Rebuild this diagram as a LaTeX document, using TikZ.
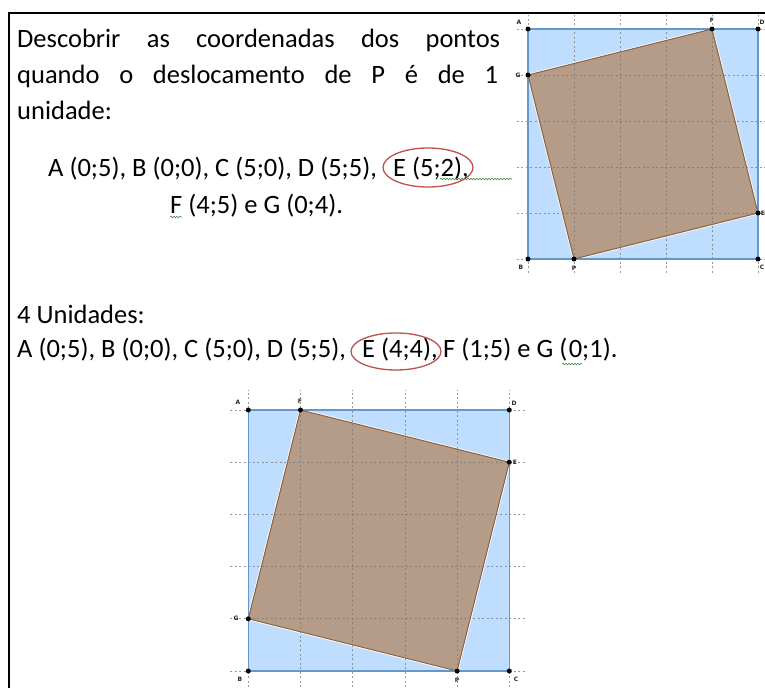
\documentclass[tikz,border=0pt]{standalone}
\usepackage{fontspec}
\setmainfont{Carlito}
\newfontfamily\lblfont{DejaVu Sans}
\usetikzlibrary{decorations.pathmorphing,shapes.geometric}
\definecolor{sqblue}{RGB}{191,222,255}
\definecolor{sqedge}{RGB}{100,152,205}
\definecolor{brownfill}{RGB}{181,156,136}
\definecolor{brownedge}{RGB}{140,100,65}
\definecolor{gridgray}{RGB}{120,120,120}
\definecolor{ringred}{RGB}{192,80,77}
\definecolor{squiggle}{RGB}{60,140,60}
\tikzset{
  txt/.style={inner sep=0pt, font=\fontsize{26.5}{30}\selectfont},
  dot/.style={circle, fill=black, inner sep=0pt, minimum size=5pt},
  lbl/.style={font=\lblfont\bfseries\fontsize{6}{6}\selectfont, inner sep=0pt, text=black!85},
  gridline/.style={gridgray, dash pattern=on 2pt off 2.5pt, line width=0.7pt, opacity=0.75},
  outerfill/.style={fill=sqblue},
  outeredge/.style={draw=sqedge, line width=1.3pt},
  halo/.style={draw=white, line width=2.6pt},
  ring/.style={draw=ringred, line width=1.3pt, ellipse, inner sep=0pt},
  wavy/.style={squiggle, line width=0.6pt, decorate, decoration={snake, amplitude=0.8pt, segment length=3pt}},
  frameline/.style={line width=2.2pt, black}
}
\begin{document}
\begin{tikzpicture}[x=1pt,y=-1pt]
\useasboundingbox (0,0) rectangle (765,688);
\clip (0,0) rectangle (765,688);
\fill[white] (0,0) rectangle (765,688);

% frame
\draw[frameline] (765,13) -- (9,13) -- (9,688);

% ---------- top figure ----------
\begin{scope}[shift={(528,259)}, x=46pt, y=46pt]
  \fill[outerfill] (0,0) rectangle (5,5);
  \draw[halo] (1,0) -- (5,1) -- (4,5) -- (0,4) -- cycle;
  \fill[brownfill] (1,0) -- (5,1) -- (4,5) -- (0,4) -- cycle;
  \foreach \u in {0,...,5} \draw[gridline] (\u,-0.3) -- (\u,5.3);
  \foreach \v in {0,...,5} \draw[gridline] (-0.25,\v) -- (5.4,\v);
  \draw[outeredge] (0,0) rectangle (5,5);
  \draw[draw=brownedge, line width=1pt] (1,0) -- (5,1) -- (4,5) -- (0,4) -- cycle;
  \node[dot] (tA) at (0,5) {};
  \node[dot] (tB) at (0,0) {};
  \node[dot] (tC) at (5,0) {};
  \node[dot] (tD) at (5,5) {};
  \node[dot] (tP) at (1,0) {};
  \node[dot] (tE) at (5,1) {};
  \node[dot] (tF) at (4,5) {};
  \node[dot] (tG) at (0,4) {};
\end{scope}
\node[lbl] (ltA) at (519,22) {A};
\node[lbl] (ltD) at (762,22) {D};
\node[lbl] (ltF) at (712,20) {F};
\node[lbl] (ltG) at (518,75) {G};
\node[lbl] (ltE) at (763,213) {E};
\node[lbl] (ltB) at (521,267) {B};
\node[lbl] (ltP) at (574,268) {P};
\node[lbl] (ltC) at (762,267) {C};

% ---------- bottom figure ----------
\begin{scope}[shift={(248.3,671)}, x=52.2pt, y=52.2pt]
  \fill[outerfill] (0,0) rectangle (5,5);
  \draw[halo] (4,0) -- (5,4) -- (1,5) -- (0,1) -- cycle;
  \fill[brownfill] (4,0) -- (5,4) -- (1,5) -- (0,1) -- cycle;
  \foreach \u in {0,...,5} \draw[gridline] (\u,-0.4) -- (\u,5.38);
  \foreach \v in {0,...,5} \draw[gridline] (-0.35,\v) -- (5.32,\v);
  \draw[outeredge] (0,0) rectangle (5,5);
  \draw[draw=brownedge, line width=1pt] (4,0) -- (5,4) -- (1,5) -- (0,1) -- cycle;
  \node[dot] (bA) at (0,5) {};
  \node[dot] (bB) at (0,0) {};
  \node[dot] (bC) at (5,0) {};
  \node[dot] (bD) at (5,5) {};
  \node[dot] (bP) at (4,0) {};
  \node[dot] (bE) at (5,4) {};
  \node[dot] (bF) at (1,5) {};
  \node[dot] (bG) at (0,1) {};
\end{scope}
\node[lbl] (lbA) at (238,402) {A};
\node[lbl] (lbF) at (300,401) {F};
\node[lbl] (lbD) at (514,403) {D};
\node[lbl] (lbE) at (515,462) {E};
\node[lbl] (lbG) at (236,618) {G};
\node[lbl] (lbB) at (240,679) {B};
\node[lbl] (lbP) at (457,680) {P};
\node[lbl] (lbC) at (516,679) {C};

% ---------- text ----------
\node[txt, anchor=base west] (l1) at (17,47) {\makebox[483pt][s]{Descobrir as coordenadas dos pontos}};
\node[txt, anchor=base west] (l2) at (17,83) {\makebox[481pt][s]{quando o deslocamento de P é de 1}};
\node[txt, anchor=base west] (l3) at (17,119) {unidade:};
\node[txt, anchor=base west] (l4a) at (48,176) {A (0;5), B (0;0), C (5;0), D (5;5),};
\node[txt, anchor=base west] (l4b) at (393,176) {E (5;2),};
\node[txt, anchor=base west] (l5) at (170,213) {F (4;5) e G (0;4).};
\node[txt, anchor=base west] (l6) at (17,323) {4 Unidades:};
\node[txt, anchor=base west] (l7a) at (17,357) {A (0;5), B (0;0), C (5;0), D (5;5),};
\node[txt, anchor=base west] (l7b) at (362,357) {E (4;4),};
\node[txt, anchor=base west] (l7c) at (443,357) {F (1;5) e G (\hspace{1.5pt}0;1).};

% red rings
\node[ring, minimum width=90pt, minimum height=39pt] (ring1) at (428,167.5) {};
\node[ring, minimum width=90pt, minimum height=37pt] (ring2) at (396,351.5) {};

% green squiggles
\draw[wavy] (440,179) -- (512,179);
\draw[wavy] (170,217) -- (182,217);
\draw[wavy] (562,364) -- (582,364);
\end{tikzpicture}
\end{document}
